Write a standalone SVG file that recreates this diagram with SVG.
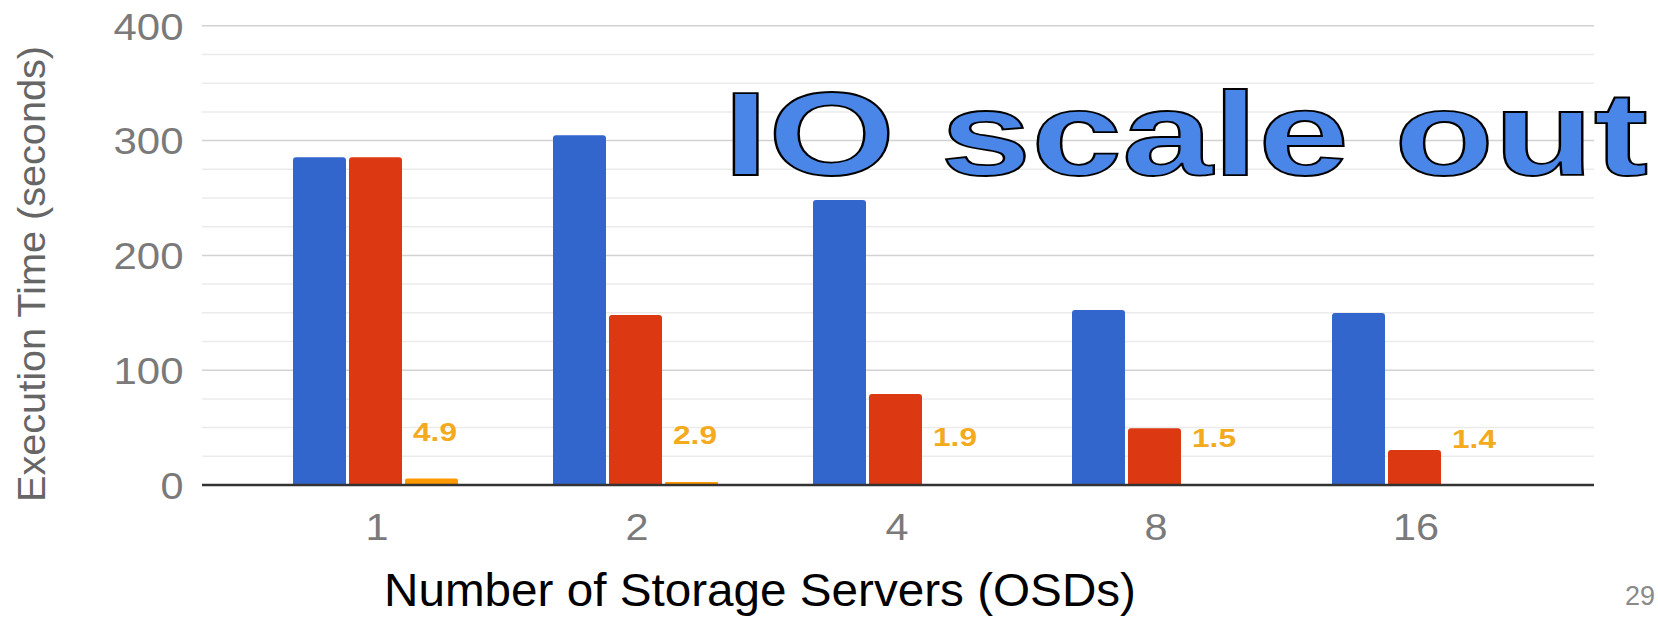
<svg xmlns="http://www.w3.org/2000/svg" width="1658" height="617" viewBox="0 0 1658 617">
  <style>
    .minor { stroke: #ebebeb; stroke-width: 1.5; }
    .major { stroke: #d2d2d2; stroke-width: 1.5; }
    .base { stroke: #333333; stroke-width: 2.5; }
    .txt { font-family: "Liberation Sans", Arial, sans-serif; }
    .tick { font-size: 37px; fill: #7a7a7a; }
    .ytick { text-anchor: end; }
    .xtick { text-anchor: middle; }
    .ytitle { font-size: 38px; fill: #666666; text-anchor: middle; }
    .val { font-size: 25px; font-weight: bold; fill: #f3aa1c; text-anchor: middle; }
    .s1 { fill: #3366cc; }
    .s2 { fill: #dc3912; }
    .s3 { fill: #ff9900; }
    .headline { font-size: 119px; font-weight: bold; fill: #4a86e8; stroke: #000000; stroke-width: 1.8; }
    .xtitle { font-size: 47px; fill: #000000; }
    .page { font-size: 27px; fill: #8a8a8a; text-anchor: end; }
  </style>

  <rect width="1658" height="617" fill="#ffffff"/>

  <!-- grid: minor lines every 25 s, major every 100 s -->
  <g id="grid">
    <g class="minor">
      <line x1="202" y1="54.5" x2="1594" y2="54.5"/>
      <line x1="202" y1="83.2" x2="1594" y2="83.2"/>
      <line x1="202" y1="111.9" x2="1594" y2="111.9"/>
      <line x1="202" y1="169.3" x2="1594" y2="169.3"/>
      <line x1="202" y1="198" x2="1594" y2="198"/>
      <line x1="202" y1="226.7" x2="1594" y2="226.7"/>
      <line x1="202" y1="284.1" x2="1594" y2="284.1"/>
      <line x1="202" y1="312.8" x2="1594" y2="312.8"/>
      <line x1="202" y1="341.5" x2="1594" y2="341.5"/>
      <line x1="202" y1="398.9" x2="1594" y2="398.9"/>
      <line x1="202" y1="427.6" x2="1594" y2="427.6"/>
      <line x1="202" y1="456.3" x2="1594" y2="456.3"/>
    </g>
    <g class="major">
      <line x1="202" y1="25.8" x2="1594" y2="25.8"/>
      <line x1="202" y1="140.6" x2="1594" y2="140.6"/>
      <line x1="202" y1="255.4" x2="1594" y2="255.4"/>
      <line x1="202" y1="370.2" x2="1594" y2="370.2"/>
    </g>
  </g>

  <!-- y axis labels -->
  <g id="y-axis" class="txt">
    <text class="tick ytick" x="183.5" y="39.5" textLength="70" lengthAdjust="spacingAndGlyphs">400</text>
    <text class="tick ytick" x="183.5" y="154" textLength="70" lengthAdjust="spacingAndGlyphs">300</text>
    <text class="tick ytick" x="183.5" y="269" textLength="70" lengthAdjust="spacingAndGlyphs">200</text>
    <text class="tick ytick" x="183.5" y="383.5" textLength="70" lengthAdjust="spacingAndGlyphs">100</text>
    <text class="tick ytick" x="183.5" y="498.5" textLength="23" lengthAdjust="spacingAndGlyphs">0</text>
    <text class="ytitle" transform="translate(45,274) rotate(-90)" textLength="456" lengthAdjust="spacingAndGlyphs">Execution Time (seconds)</text>
  </g>

  <!-- bar groups, one per server count -->
  <g id="osd-1">
    <path class="s1" d="M293 485V160.3Q293 157.3 296 157.3H343Q346 157.3 346 160.3V485Z"/>
    <path class="s2" d="M349 485V160.3Q349 157.3 352 157.3H399Q402 157.3 402 160.3V485Z"/>
    <path class="s3" d="M405 485V480.4Q405 478.4 407 478.4H456Q458 478.4 458 480.4V485Z"/>
    <text class="txt val" x="435" y="441" textLength="44" lengthAdjust="spacingAndGlyphs">4.9</text>
  </g>
  <g id="osd-2">
    <path class="s1" d="M553 485V138.3Q553 135.3 556 135.3H603Q606 135.3 606 138.3V485Z"/>
    <path class="s2" d="M609 485V318Q609 315 612 315H659Q662 315 662 318V485Z"/>
    <path class="s3" d="M665 485V483Q665 482 666 482H717Q718 482 718 483V485Z"/>
    <text class="txt val" x="695" y="444" textLength="44" lengthAdjust="spacingAndGlyphs">2.9</text>
  </g>
  <g id="osd-4">
    <path class="s1" d="M813 485V203Q813 200 816 200H863Q866 200 866 203V485Z"/>
    <path class="s2" d="M869 485V397Q869 394 872 394H919Q922 394 922 397V485Z"/>
    <text class="txt val" x="955" y="446" textLength="44" lengthAdjust="spacingAndGlyphs">1.9</text>
  </g>
  <g id="osd-8">
    <path class="s1" d="M1072 485V313Q1072 310 1075 310H1122Q1125 310 1125 313V485Z"/>
    <path class="s2" d="M1128 485V431.3Q1128 428.3 1131 428.3H1178Q1181 428.3 1181 431.3V485Z"/>
    <text class="txt val" x="1214" y="446.5" textLength="44" lengthAdjust="spacingAndGlyphs">1.5</text>
  </g>
  <g id="osd-16">
    <path class="s1" d="M1332 485V316Q1332 313 1335 313H1382Q1385 313 1385 316V485Z"/>
    <path class="s2" d="M1388 485V453Q1388 450 1391 450H1438Q1441 450 1441 453V485Z"/>
    <text class="txt val" x="1474" y="447.5" textLength="44" lengthAdjust="spacingAndGlyphs">1.4</text>
  </g>

  <!-- baseline and x axis labels -->
  <g id="x-axis">
    <line class="base" x1="202" y1="485" x2="1594" y2="485"/>
    <g class="txt">
      <text class="tick xtick" x="377" y="540" textLength="23" lengthAdjust="spacingAndGlyphs">1</text>
      <text class="tick xtick" x="637" y="540" textLength="23" lengthAdjust="spacingAndGlyphs">2</text>
      <text class="tick xtick" x="897" y="540" textLength="23" lengthAdjust="spacingAndGlyphs">4</text>
      <text class="tick xtick" x="1156" y="540" textLength="23" lengthAdjust="spacingAndGlyphs">8</text>
      <text class="tick xtick" x="1416" y="540" textLength="46" lengthAdjust="spacingAndGlyphs">16</text>
    </g>
    <text class="txt xtitle" x="384" y="606" textLength="752" lengthAdjust="spacingAndGlyphs">Number of Storage Servers (OSDs)</text>
  </g>

  <!-- headline over the plot -->
  <g id="headline">
    <text class="txt headline" x="723" y="175" textLength="925" lengthAdjust="spacingAndGlyphs">IO scale out</text>
  </g>

  <!-- slide number -->
  <g id="page-number">
    <text class="txt page" x="1655" y="605">29</text>
  </g>
</svg>
